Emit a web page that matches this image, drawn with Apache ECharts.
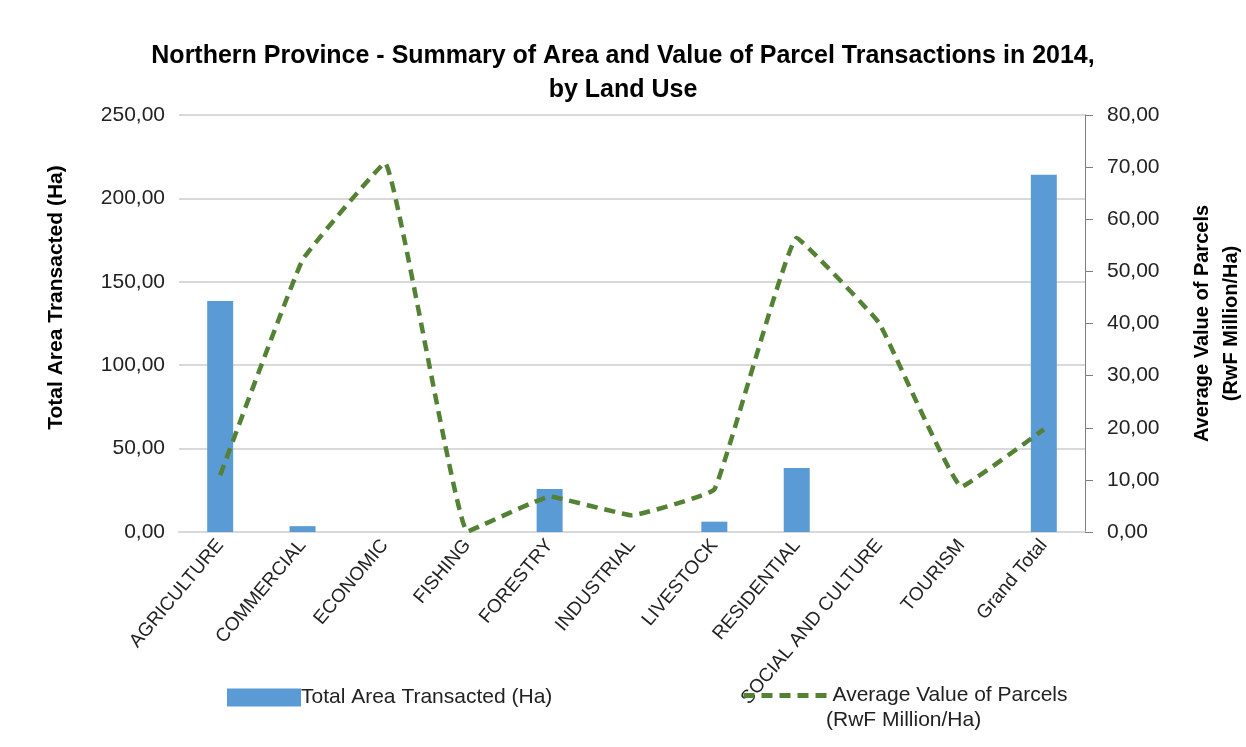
<!DOCTYPE html>
<html>
<head>
<meta charset="utf-8">
<script src="https://cdn.jsdelivr.net/npm/echarts@6/dist/echarts.min.js"></script>
<style>
html,body{margin:0;padding:0;background:#fff;}
#main{width:1246px;height:747px;}
</style>
</head>
<body>
<div id="main"></div>
<script>
// categories (land use)
var landUse = ['AGRICULTURE','COMMERCIAL','ECONOMIC','FISHING','FORESTRY','INDUSTRIAL','LIVESTOCK','RESIDENTIAL','SOCIAL AND CULTURE','TOURISM','Grand Total'];
// total area transacted (Ha), left axis
var areaHa = [138.5, 3.5, null, null, 25.8, null, 6.2, 38.4, null, null, 214.2];
// average value (RwF Million/Ha), right axis
var avgValue = [10.9, 52.2, 70.8, 0.1, 6.8, 3.2, 8.2, 56.4, 40.1, 8.7, 19.7];

function fmt(v){
    return v.toFixed(2).replace('.', ',');
}

var myChart = echarts.init(document.getElementById('main'));

var fontName = 'Liberation Sans';

var option = {
    backgroundColor: '#fff',
    textStyle: {fontFamily: fontName},
    title: {
        text: 'Northern Province - Summary of Area and Value of Parcel Transactions in 2014,\nby Land Use',
        left: 'center',
        top: 34,
        textStyle: {fontSize: 25, fontWeight: 'bold', color: '#000', lineHeight: 34, fontFamily: fontName}
    },
    legend: [{
        data: [{name: 'Total Area Transacted (Ha)', icon: 'rect'}],
        left: 222,
        top: 682,
        itemWidth: 74,
        itemHeight: 18,
        itemGap: 2,
        textStyle: {fontSize: 21, color: '#222', padding: [0, 0, 0, -5]}
    }, {
        data: ['Average Value of Parcels'],
        left: 736,
        top: 680,
        itemWidth: 84,
        itemHeight: 20,
        itemStyle: {opacity: 0},
        lineStyle: {width: 5, type: [11, 7], color: '#548235'},
        textStyle: {fontSize: 21, color: '#222'}
    }],
    graphic: [{
        type: 'text',
        left: 826,
        top: 710,
        style: {text: '(RwF Million/Ha)', fontSize: 21, fill: '#222', fontFamily: fontName}
    }],
    grid: {left: 179, right: 161, top: 115, bottom: 215, outerBoundsMode: 'none', containLabel: false},
    xAxis: {
        type: 'category',
        data: landUse,
        axisTick: {show: false},
        axisLine: {lineStyle: {color: '#d9d9d9', width: 2}},
        axisLabel: {rotate: 50, interval: 0, fontSize: 19, color: '#222', margin: 10}
    },
    yAxis: [{
        type: 'value',
        min: 0, max: 250, interval: 50,
        name: 'Total Area Transacted (Ha)',
        nameLocation: 'middle',
        nameGap: 112,
        nameTextStyle: {fontSize: 21, fontWeight: 'bold', color: '#000', padding: [0, 0, 0, 52]},
        axisLine: {show: false},
        axisTick: {show: false},
        splitLine: {lineStyle: {color: '#d9d9d9', width: 2}},
        axisLabel: {fontSize: 21, color: '#222', formatter: fmt, margin: 14}
    }, {
        type: 'value',
        min: 0, max: 80, interval: 10,
        name: 'Average Value of Parcels\n(RwF Million/Ha)',
        nameLocation: 'middle',
        nameGap: 103,
        nameRotate: 90,
        nameTextStyle: {fontSize: 20, fontWeight: 'bold', color: '#000', lineHeight: 29},
        axisLine: {show: true, lineStyle: {color: '#7f7f7f', width: 1}},
        axisTick: {show: true, length: 8, lineStyle: {color: '#7f7f7f'}},
        splitLine: {show: false},
        axisLabel: {fontSize: 21, color: '#222', formatter: fmt, margin: 22}
    }],
    series: [{
        name: 'Total Area Transacted (Ha)',
        type: 'bar',
        yAxisIndex: 0,
        barWidth: 26,
        itemStyle: {color: '#5b9bd5'},
        data: areaHa
    }, {
        name: 'Average Value of Parcels',
        type: 'line',
        yAxisIndex: 1,
        smooth: 0.08,
        symbol: 'none',
        lineStyle: {color: '#548235', width: 4.5, type: [11, 7]},
        itemStyle: {color: '#548235'},
        data: avgValue
    }]
};

myChart.setOption(option);
</script>
</body>
</html>
